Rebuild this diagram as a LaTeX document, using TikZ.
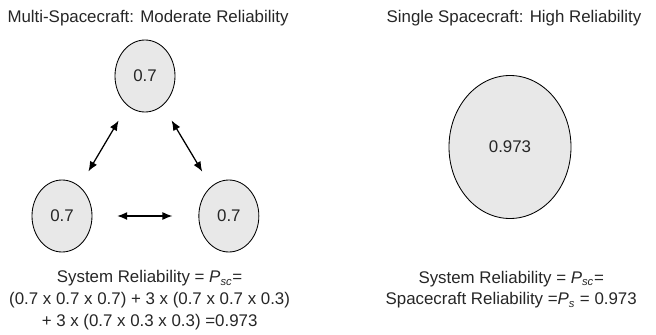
\documentclass[tikz,border=0pt]{standalone}
\usepackage{fontspec}
\setmainfont{Liberation Sans}
\usetikzlibrary{arrows.meta,positioning,shapes.geometric}

\begin{document}
\begin{tikzpicture}[every node/.style={font=\fontsize{12}{15.5}\selectfont, text=black!85}]
\tikzset{craft/.style={draw, ellipse, fill=gray!18, line width=0.6pt, minimum width=1.5cm, minimum height=1.8cm, inner sep=0pt}}
\tikzset{link/.style={{Latex[length=2.5mm,width=2mm]}-{Latex[length=2.5mm,width=2mm]}, line width=0.9pt, shorten <=0.43cm, shorten >=0.43cm}}
\useasboundingbox (0,0) rectangle (16.4,-8.375);
\node (ttl1) at (3.7,-0.45) {Multi-Spacecraft: Moderate Reliability};
\node[craft] (top) at (3.625,-1.9) {0.7};
\node[craft] (bl) at (1.55,-5.4) {0.7};
\node[craft, right=2.65cm of bl] (br) {0.7};
\draw[link] (top) -- (bl);
\draw[link] (top) -- (br);
\draw[link, shorten <=0.62cm, shorten >=0.65cm] (bl) -- (br);
\node[align=center] (rel1) at (3.74,-7.5) {System Reliability = \textit{P}\textsubscript{\textit{sc}}=\\(0.7 x 0.7 x 0.7) + 3 x (0.7 x 0.7 x 0.3)\\+ 3 x (0.7 x 0.3 x 0.3) =0.973};
\node (ttl2) at (12.85,-0.45) {Single Spacecraft: High Reliability};
\node[craft, minimum width=3.05cm, minimum height=3.575cm] (one) at (12.75,-3.675) {0.973};
\node[align=center] (rel2) at (12.78,-7.24) {System Reliability = \textit{P}\textsubscript{\textit{sc}}=\\Spacecraft Reliability =\textit{P}\textsubscript{\textit{s}} = 0.973};
\end{tikzpicture}
\end{document}
